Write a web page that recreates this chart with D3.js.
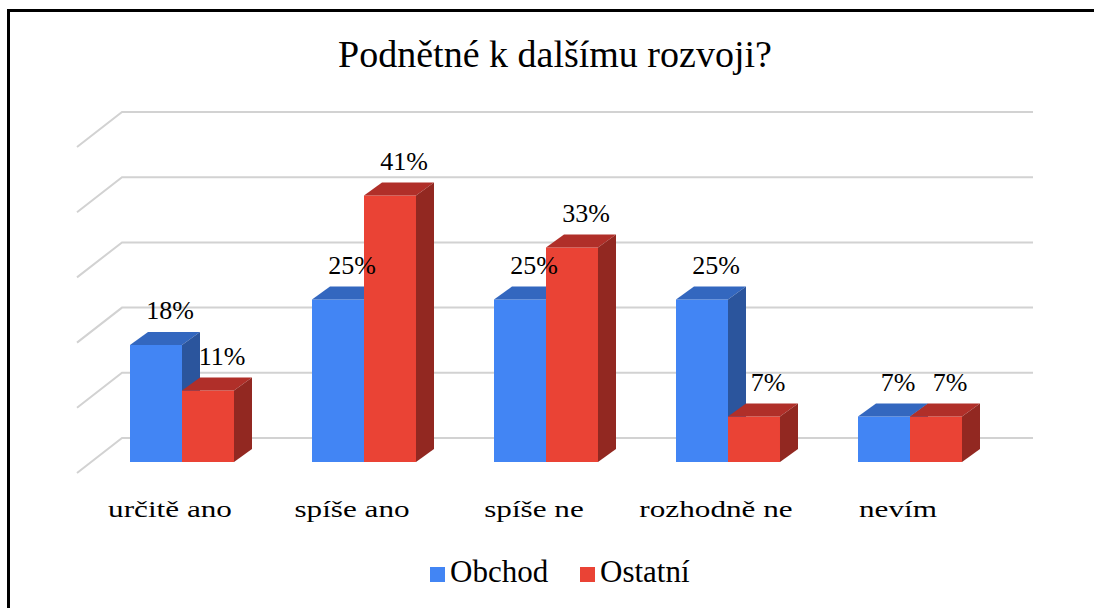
<!DOCTYPE html>
<html>
<head>
<meta charset="utf-8">
<script src="https://cdn.jsdelivr.net/npm/d3@7"></script>
</head>
<body style="margin:0">
<script>
// data
var categories = ["určitě ano", "spíše ano", "spíše ne", "rozhodně ne", "nevím"];
var seriesNames = ["Obchod", "Ostatní"];
var obchod = [18, 25, 25, 25, 7];
var ostatni = [11, 41, 33, 7, 7];
var gridTicks = [0, 10, 20, 30, 40, 50];

var colors = {
  "Obchod": { front: "#4285f4", top: "#3367bf", side: "#2b559d" },
  "Ostatní": { front: "#ea4335", top: "#b02f29", side: "#922821" }
};

var width = 1094, height = 608;
var depthX = 18, depthY = 13;     // bar depth
var wallX = -45, wallY = 35;      // side wall slant

var svg = d3.select('body').append('svg')
  .attr('width', width)
  .attr('height', height);

// frame (top + left only)
svg.append('path')
  .attr('d', 'M8.5,' + height + ' V10.5 H' + width)
  .attr('fill', 'none')
  .attr('stroke', '#000')
  .attr('stroke-width', 3);

var x = d3.scaleBand()
  .domain(categories)
  .range([91, 1001])
  .paddingInner(0.4286)
  .paddingOuter(0.2143);

var xSub = d3.scaleBand()
  .domain(seriesNames)
  .range([0, x.bandwidth()]);

// back wall scale and bar scale
var yWall = d3.scaleLinear().domain([0, 50]).range([438, 112]);
var yBar = d3.scaleLinear().domain([0, 50]).range([462, 137]);

// gridlines on back wall + slanted side wall
gridTicks.forEach(function(t) {
  var yy = yWall(t);
  svg.append('path')
    .attr('d', 'M' + (122 + wallX) + ',' + (yy + wallY) + ' L122,' + yy + ' H1033')
    .attr('stroke', '#d2d2d2')
    .attr('stroke-width', 2)
    .attr('fill', 'none');
});

// bars
var rows = categories.map(function(c, i) {
  return [
    { cat: c, name: "Obchod", value: obchod[i] },
    { cat: c, name: "Ostatní", value: ostatni[i] }
  ];
});

var labelData = [];
rows.forEach(function(row) {
  row.forEach(function(d) {
    var x0 = x(d.cat) + xSub(d.name);
    var w = xSub.bandwidth();
    var y0 = yBar(d.value);
    var y1 = yBar(0);
    var col = colors[d.name];

    svg.append('rect')
      .attr('x', x0)
      .attr('y', y0)
      .attr('width', w)
      .attr('height', y1 - y0)
      .attr('fill', col.front);

    svg.append('polygon')
      .attr('points', [
        [x0, y0], [x0 + depthX, y0 - depthY],
        [x0 + w + depthX, y0 - depthY], [x0 + w, y0]
      ].join(' '))
      .attr('fill', col.top);

    svg.append('polygon')
      .attr('points', [
        [x0 + w, y0], [x0 + w + depthX, y0 - depthY],
        [x0 + w + depthX, y1 - depthY], [x0 + w, y1]
      ].join(' '))
      .attr('fill', col.side);

    labelData.push({ x: x0 + w / 2 + 14, y: y0 - 26, t: d.value + '%' });
  });
});

// all texts, font set right on each text
svg.append('text')
  .attr('x', 555)
  .attr('y', 67)
  .attr('text-anchor', 'middle')
  .attr('font-family', 'Times New Roman')
  .attr('font-size', 38)
  .text('Podnětné k dalšímu rozvoji?');

labelData.forEach(function(l) {
  svg.append('text')
    .attr('x', l.x)
    .attr('y', l.y)
    .attr('text-anchor', 'middle')
    .attr('font-family', 'Liberation Serif')
    .attr('font-size', 26)
    .text(l.t);
});

categories.forEach(function(c) {
  svg.append('text')
    .attr('transform', 'translate(' + (x(c) + x.bandwidth() / 2 - 12) + ',517) scale(1.3,1)')
    .attr('text-anchor', 'middle')
    .attr('font-family', 'Liberation Serif')
    .attr('font-size', 24)
    .text(c);
});

// legend
var legendX = [430, 580];
seriesNames.forEach(function(name, i) {
  svg.append('rect')
    .attr('x', legendX[i])
    .attr('y', 567)
    .attr('width', 15)
    .attr('height', 15)
    .attr('fill', colors[name].front);
  svg.append('text')
    .attr('x', legendX[i] + 20)
    .attr('y', 582)
    .attr('font-family', 'Liberation Serif')
    .attr('font-size', 31)
    .text(name);
});
</script>
</body>
</html>
